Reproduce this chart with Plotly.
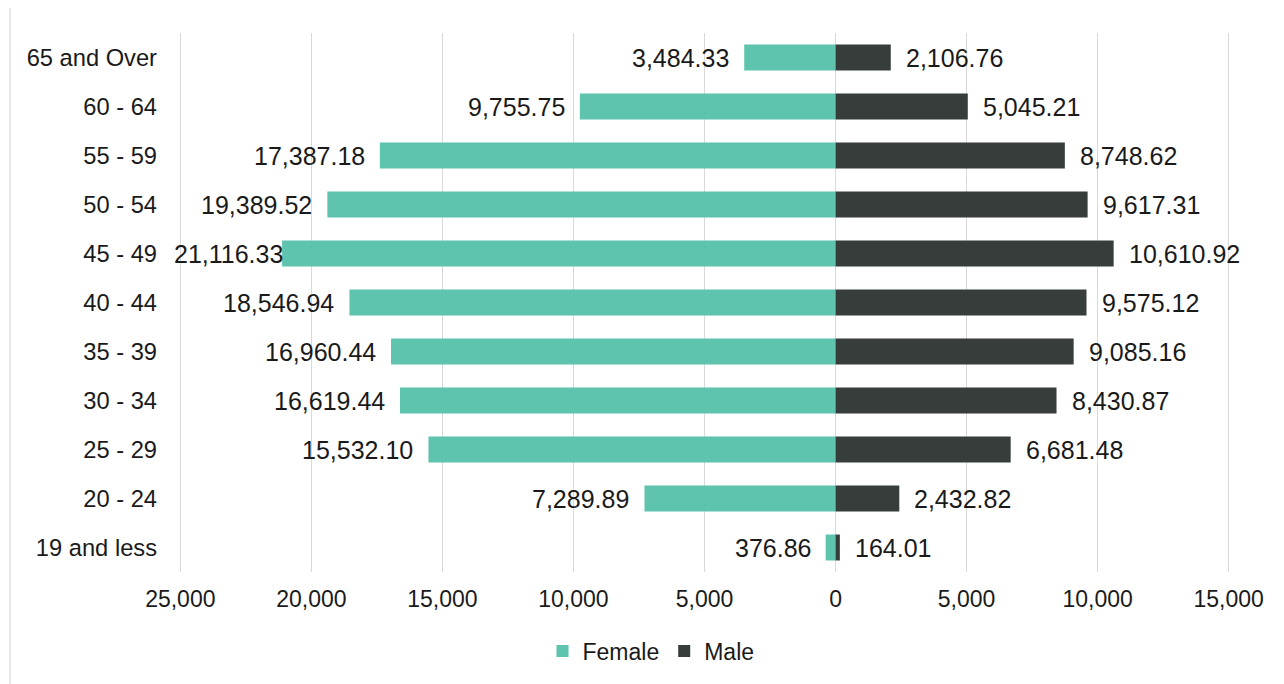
import plotly.graph_objects as go

categories = ["19 and less", "20 - 24", "25 - 29", "30 - 34", "35 - 39", "40 - 44",
              "45 - 49", "50 - 54", "55 - 59", "60 - 64", "65 and Over"]
female = [376.86, 7289.89, 15532.10, 16619.44, 16960.44, 18546.94,
          21116.33, 19389.52, 17387.18, 9755.75, 3484.33]
male = [164.01, 2432.82, 6681.48, 8430.87, 9085.16, 9575.12,
        10610.92, 9617.31, 8748.62, 5045.21, 2106.76]
tick_values = [-25000, -20000, -15000, -10000, -5000, 0, 5000, 10000, 15000]

FEMALE_COLOR = "#5EC4AE"
MALE_COLOR = "#363D3A"
FONT = "Liberation Sans, Arial, sans-serif"
TXT = "#1a1a1a"
X_MIN, X_MAX = -25000, 15000
PAD = 50  # small range padding so edge gridlines are drawn

fig = go.Figure()
fig.add_trace(go.Bar(
    y=categories, x=[-v for v in female], orientation="h", name="Female",
    marker=dict(color=FEMALE_COLOR, line=dict(width=0)), hoverinfo="skip",
))
fig.add_trace(go.Bar(
    y=categories, x=male, orientation="h", name="Male",
    marker=dict(color=MALE_COLOR, line=dict(width=0)), hoverinfo="skip",
))

# page body has an 8px margin, so the figure is offset by 8px
OFF = 8
W, H = 1284 - OFF, 684 - OFF
L = 179 - OFF
T = 33 - OFF
R = W - (1230 - OFF)
B = H - (572 - OFF)
pw, ph = W - L - R, H - T - B

annotations = []
label_font = dict(size=25, color=TXT, family=FONT)
for cat, v in zip(categories, female):
    text = f"{v:,.2f}"
    if v > 20500:
        # clamp long label near the left plot edge
        annotations.append(dict(x=X_MIN, y=cat, xref="x", yref="y", text=text,
                                showarrow=False, xanchor="left", xshift=-8,
                                font=label_font))
    else:
        annotations.append(dict(x=-v, y=cat, xref="x", yref="y", text=text,
                                showarrow=False, xanchor="right", xshift=-13,
                                font=label_font))
for cat, v in zip(categories, male):
    annotations.append(dict(x=v, y=cat, xref="x", yref="y", text=f"{v:,.2f}",
                            showarrow=False, xanchor="left", xshift=13,
                            font=label_font))

fig.update_layout(
    width=W, height=H,
    margin=dict(l=L, r=R, t=T, b=B, pad=0, autoexpand=False),
    barmode="relative", bargap=0.47,
    plot_bgcolor="white", paper_bgcolor="white",
    font=dict(family=FONT, size=23, color=TXT),
    xaxis=dict(
        range=[X_MIN - PAD, X_MAX + PAD], tickvals=tick_values,
        ticktext=[f"{abs(v):,}" for v in tick_values],
        showgrid=True, gridcolor="#d9d9d9", gridwidth=1,
        zeroline=True, zerolinecolor="#d9d9d9", zerolinewidth=1,
        showline=False, ticks="", ticklabelstandoff=11,
        tickfont=dict(size=23, color=TXT), automargin=False,
    ),
    yaxis=dict(
        showgrid=False, zeroline=False, showline=False, ticks="",
        ticklabelstandoff=21, tickfont=dict(size=23.7, color=TXT),
        range=[-0.5, len(categories) - 0.5], automargin=False,
    ),
    legend=dict(
        orientation="h", x=(651 - OFF - L) / pw, xanchor="center",
        y=(572 - 651) / ph, yanchor="middle",
        font=dict(size=23, color=TXT), traceorder="normal",
        itemwidth=30,
    ),
    annotations=annotations,
    showlegend=True,
)

fig.add_shape(
    type="line", xref="paper", yref="paper",
    x0=(10 - OFF - L) / pw, x1=(10 - OFF - L) / pw,
    y0=(H - B) / ph, y1=-B / ph,
    line=dict(color="#d0d0d0", width=1),
)

fig.write_html("out.html")
